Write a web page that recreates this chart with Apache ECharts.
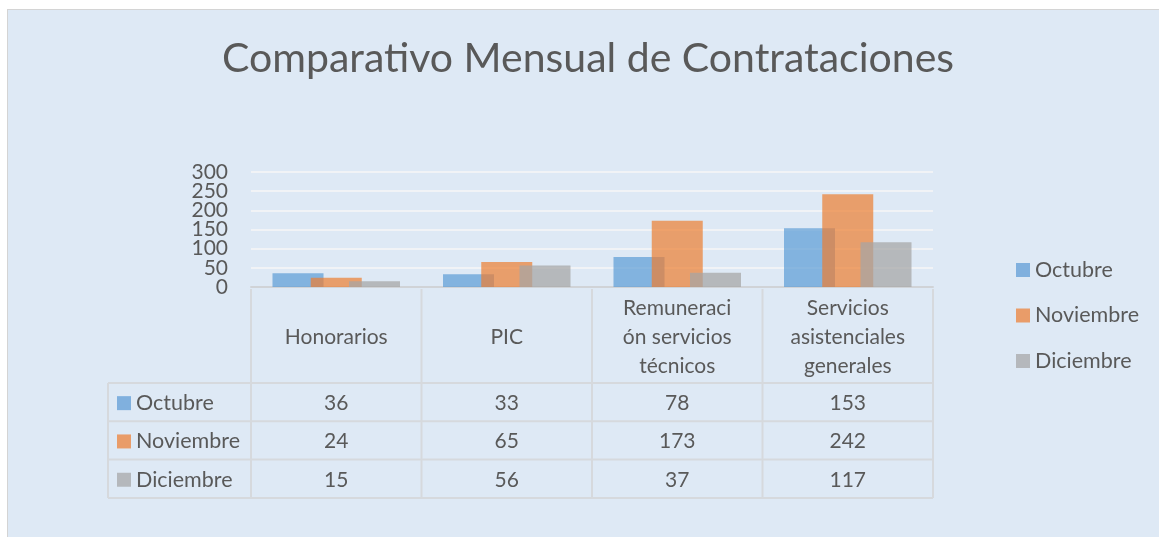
<!DOCTYPE html>
<html>
<head>
<meta charset="utf-8">
<script src="https://cdn.jsdelivr.net/npm/echarts@6/dist/echarts.min.js"></script>
<style>
  html, body { margin: 0; padding: 0; background: #ffffff; }
  #bg { position: absolute; left: 7px; top: 9px; width: 1152px; height: 528px;
        background: #dee9f5; border-left: 1px solid #d4d4d4; border-top: 1px solid #d4d4d4; }
  #chart { position: absolute; left: 0; top: 0; width: 1159px; height: 537px; }
</style>
</head>
<body>
<div id="bg"></div>
<div id="chart"></div>
<script>
const titleText = 'Comparativo Mensual de Contrataciones';
const categories = ['Honorarios', 'PIC', 'Remuneración servicios técnicos', 'Servicios asistenciales generales'];
const headerLabels = ['Honorarios', 'PIC', 'Remuneraci\nón servicios\ntécnicos', 'Servicios\nasistenciales\ngenerales'];
const seriesNames = ['Octubre', 'Noviembre', 'Diciembre'];
const octubre = [36, 33, 78, 153];
const noviembre = [24, 65, 173, 242];
const diciembre = [15, 56, 37, 117];
const yTicks = [0, 50, 100, 150, 200, 250, 300];

const seriesData = [octubre, noviembre, diciembre];
const colors = ['rgba(91,155,213,0.7)', 'rgba(237,125,49,0.7)', 'rgba(165,165,165,0.72)'];
const solidColors = ['#80b0de', '#e99c69', '#b5b8bc'];
const FONT = 'Lato, "Open Sans", sans-serif';
const TXT = '#595959';
const LINE = '#d6d9dd';

const gridLeft = 251, gridRight = 933, gridTop = 172, gridBottom = 287;
const chart = echarts.init(document.getElementById('chart'), null, { renderer: 'canvas' });

chart.setOption({
  backgroundColor: 'transparent',
  animation: false,
  textStyle: { fontFamily: FONT },
  title: {
    text: titleText,
    left: 222,
    top: 38,
    padding: 0,
    textStyle: { fontFamily: FONT, fontSize: 41, fontWeight: 'normal', color: TXT }
  },
  legend: {
    orient: 'vertical',
    left: 1016,
    top: 259,
    padding: 0,
    itemWidth: 14,
    itemHeight: 14,
    itemGap: 23.5,
    icon: 'rect',
    data: seriesNames.map((n, i) => ({ name: n, itemStyle: { color: solidColors[i] } })),
    textStyle: { fontFamily: FONT, fontSize: 21.5, color: TXT, lineHeight: 21 }
  },
  grid: { left: gridLeft, right: 1159 - gridRight, top: gridTop, bottom: 537 - gridBottom, containLabel: false },
  xAxis: {
    type: 'category',
    data: categories,
    axisLine: { show: true, lineStyle: { color: '#d0d3d7', width: 2 } },
    axisTick: { show: false },
    axisLabel: { show: false }
  },
  yAxis: {
    type: 'value',
    min: yTicks[0],
    max: yTicks[yTicks.length - 1],
    interval: 50,
    axisLine: { show: false },
    axisTick: { show: false },
    axisLabel: { show: false },
    splitLine: { lineStyle: { color: '#f1f3f6', width: 2 } }
  },
  series: seriesNames.map((n, i) => ({
    name: n,
    type: 'bar',
    data: seriesData[i],
    barWidth: 51,
    barGap: '-25%',
    itemStyle: { color: colors[i] },
    emphasis: { disabled: true }
  }))
});

const g = [];
// y-axis tick labels (placed through the axis scale; drawn manually so none are dropped for overlap)
yTicks.forEach(t => {
  const y = chart.convertToPixel({ yAxisIndex: 0 }, t);
  g.push({ type: 'text', x: gridLeft - 23, y: y, silent: true,
    style: { text: String(t), fontFamily: FONT, fontSize: 21, fill: TXT, align: 'right', verticalAlign: 'middle' } });
});

// Data table below the plot
const n = categories.length;
const colW = (gridRight - gridLeft) / n;
const tableTop = 289, headerBottom = 383, rowH = 38.3, leftCol = 108;
const rowsBottom = headerBottom + rowH * seriesNames.length;
const ls = { stroke: LINE, lineWidth: 2 };
for (let i = 0; i <= n; i++) {
  const x = gridLeft + colW * i;
  g.push({ type: 'line', shape: { x1: x, y1: tableTop, x2: x, y2: rowsBottom }, style: ls, silent: true });
}
g.push({ type: 'line', shape: { x1: leftCol, y1: headerBottom, x2: leftCol, y2: rowsBottom }, style: ls, silent: true });
for (let r = 0; r <= seriesNames.length; r++) {
  const y = headerBottom + rowH * r;
  g.push({ type: 'line', shape: { x1: leftCol, y1: y, x2: gridRight, y2: y }, style: ls, silent: true });
}
for (let i = 0; i < n; i++) {
  const cx = chart.convertToPixel({ xAxisIndex: 0 }, categories[i]);
  g.push({ type: 'text', x: cx, y: (tableTop + headerBottom) / 2 + 1, silent: true,
    style: { text: headerLabels[i], fontFamily: FONT, fontSize: 21, fill: TXT, align: 'center', verticalAlign: 'middle', lineHeight: 29 } });
}
seriesNames.forEach((name, r) => {
  const cy = headerBottom + rowH * (r + 0.5) + 1;
  g.push({ type: 'rect', shape: { x: 117, y: cy - 7, width: 14, height: 14 }, style: { fill: solidColors[r] }, silent: true });
  g.push({ type: 'text', x: 136, y: cy, silent: true,
    style: { text: name, fontFamily: FONT, fontSize: 21.5, fill: TXT, align: 'left', verticalAlign: 'middle' } });
  seriesData[r].forEach((v, i) => {
    const cx = chart.convertToPixel({ xAxisIndex: 0 }, categories[i]);
    g.push({ type: 'text', x: cx, y: cy, silent: true,
      style: { text: String(v), fontFamily: FONT, fontSize: 21, fill: TXT, align: 'center', verticalAlign: 'middle' } });
  });
});
chart.setOption({ graphic: g });
</script>
</body>
</html>
